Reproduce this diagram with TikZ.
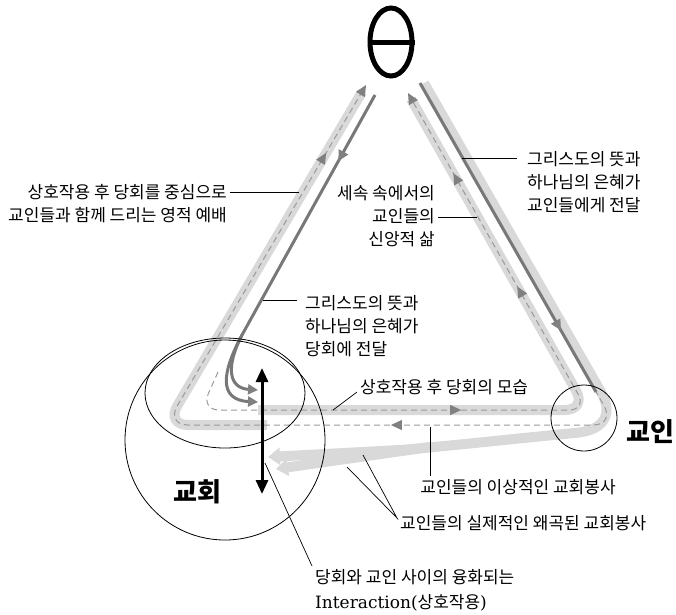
\documentclass[tikz,border=0pt]{standalone}
\usepackage{fontspec}
\setmainfont{Noto Sans CJK KR}
\newfontfamily\latinserif{DejaVu Serif}
\usetikzlibrary{arrows.meta,shapes.geometric,decorations.markings,calc}

\definecolor{bandgray}{gray}{0.85}
\definecolor{dashgray}{gray}{0.6}
\definecolor{tipgray}{gray}{0.5}
\definecolor{gracegray}{gray}{0.47}

\tikzset{
  band/.style={line width=10pt, bandgray},
  flow/.style={dashgray, line width=1pt, dash pattern=on 6pt off 4pt},
  grace/.style={gracegray, line width=3pt},
  leader/.style={black, line width=0.7pt},
  lbl/.style={font=\fontsize{17}{23}\selectfont, inner sep=3pt},
  bigname/.style={font=\fontsize{26}{30}\selectfont\bfseries, inner sep=0pt},
  ring/.style={draw, line width=0.8pt, inner sep=0pt},
  tipmark/.style={postaction={decorate, decoration={markings,
      mark=at position #1 with {\arrow{Triangle[length=11pt,width=10pt,color=tipgray]}}}}}
}

\begin{document}
\begin{tikzpicture}[x=1pt, y=-1pt]
\useasboundingbox (0,0) rectangle (676,614);

% corners of the two loops
\coordinate (topL) at (366,85);
\coordinate (topR) at (408,93);
\coordinate (cornerL) at (166,425);
\coordinate (cornerR) at (615,425);
\coordinate (innerL) at (201,410);
\coordinate (innerR) at (587,410);

% light bands
\draw[band, rounded corners=22] (267,425) -- (cornerL) -- (362,92);
\draw[band, rounded corners=22] (258,410) -- (innerR) -- (411,99);
\draw[band, -{Triangle[length=12pt,width=17pt]}] (424,83) -- (601,392)
  .. controls (612,411) and (608,430) .. (575,433)
  .. controls (540,436) and (450,446) .. (400,450) -- (268,457);
\draw[band, -{Triangle[length=12pt,width=17pt]}] (430,447) -- (276,469);

% dashed loops
\draw[flow, rounded corners=22, tipmark=599pt, tipmark=1124pt,
  -{Triangle[length=11pt,width=10pt,color=tipgray]}]
  (421,86) -- (cornerR) -- (cornerL) -- (topL);
\draw[flow, rounded corners=18, tipmark=290pt, tipmark=545pt, tipmark=675pt,
  -{Triangle[length=11pt,width=10pt,color=tipgray]}]
  (218,372) -- (innerL) -- (innerR) -- (topR);

% grace lines
\draw[grace, tipmark=285pt] (420,83) -- (596,392);
\coordinate (graceTopL) at (375,95);
\coordinate (graceBend) at (242,335);
\draw[grace, tipmark=76pt, -{Triangle[length=10pt,width=10pt,color=tipgray]}]
  (graceTopL) -- (graceBend) .. controls (226,366) and (228,388) .. (258,390);
\draw[grace, -{Triangle[length=10pt,width=10pt,color=tipgray]}]
  (graceBend) .. controls (222,372) and (218,400) .. (258,402);

% theta
\node[draw, ellipse, line width=5pt, minimum width=42, minimum height=68, inner sep=0pt] (theta) at (391,42) {};
\draw[line width=5pt] (theta.west) -- (theta.east);

% rings
\node[ring, circle, minimum size=200] (churchring) at (225,440) {};
\node[ring, ellipse, minimum width=160, minimum height=110] (session) at (225,393) {};
\node[ring, circle, minimum size=66] (memberring) at (584,418) {};

% interaction
\coordinate (meetTop) at (262,368);
\coordinate (meetBot) at (262,494);
\draw[line width=3pt, {Triangle[length=14pt,width=12pt]}-{Triangle[length=14pt,width=12pt]}] (meetTop) -- (meetBot);

% labels
\node[bigname] (member) at (650,432) {교인};
\node[bigname] (church) at (197,492) {교회};

\node[lbl, anchor=east, align=right] (worship) at (230,204) {상호작용 후 당회를 중심으로\\교인들과 함께 드리는 영적 예배};
\coordinate (worshipEnd) at (299,192);
\draw[leader] (worship.east |- worshipEnd) -- (worshipEnd);

\node[lbl, anchor=east, align=right] (life) at (438,216) {세속 속에서의\\교인들의\\신앙적 삶};
\coordinate (lifeEnd) at (477,217);
\draw[leader] (life.east |- lifeEnd) -- (lifeEnd);

\node[lbl, anchor=west, align=left] (graceMembers) at (524,182) {그리스도의 뜻과\\하나님의 은혜가\\교인들에게 전달};
\coordinate (graceMembersStart) at (462,158);
\draw[leader, shorten >=7pt] (graceMembersStart) -- (graceMembers.west |- graceMembersStart);

\node[lbl, anchor=west, align=left] (graceSession) at (302,326) {그리스도의 뜻과\\하나님의 은혜가\\당회에 전달};
\coordinate (graceSessionStart) at (263,300);
\draw[leader, shorten >=5pt] (graceSessionStart) -- (graceSession.west |- graceSessionStart);

\node[lbl, anchor=west] (shape) at (357,387) {상호작용 후 당회의 모습};
\coordinate (shapeStart) at (333,410);
\draw[leader] (shapeStart) -- ($(shape.west)+(0,5)$);

\node[lbl] (ideal) at (518,487) {교인들의 이상적인 교회봉사};
\coordinate (idealStart) at (430,427);
\draw[leader] (idealStart) -- (idealStart |- ideal.north);

\node[lbl, anchor=west] (real) at (397,523) {교인들의 실제적인 왜곡된 교회봉사};
\coordinate (realUpper) at (363,455);
\coordinate (realLower) at (347,467);
\draw[leader] (realUpper) -- ($(real.west)+(0,-5)$) -- (realLower);

\node[lbl, anchor=north west, align=left] (interaction) at (312,566) {당회와 교인 사이의 융화되는\\[2pt]{\latinserif Interaction(}상호작용{\latinserif )}};
\coordinate (interStart) at (265,463);
\draw[leader] (interStart) -- (interaction.north west);
\end{tikzpicture}
\end{document}
